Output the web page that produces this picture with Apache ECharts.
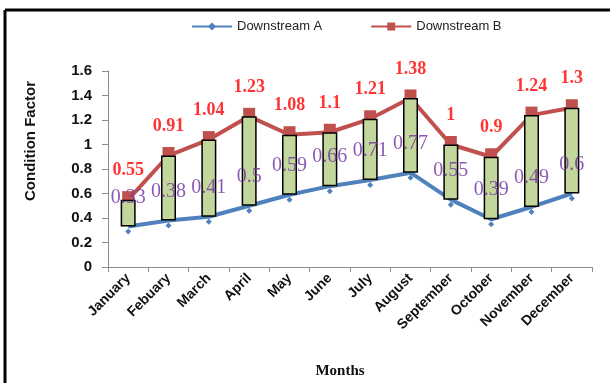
<!DOCTYPE html>
<html>
<head>
<meta charset="utf-8">
<script src="https://cdn.jsdelivr.net/npm/echarts@6/dist/echarts.min.js"></script>
<style>
  html, body { margin: 0; padding: 0; background: #fff; }
  #chart { width: 610px; height: 383px; }
</style>
</head>
<body>
<div id="chart"></div>
<script>
const months = ["January", "Febuary", "March", "April", "May", "June", "July", "August", "September", "October", "November", "December"]
const downstreamA = [0.33, 0.38, 0.41, 0.5, 0.59, 0.66, 0.71, 0.77, 0.55, 0.39, 0.49, 0.6]
const downstreamB = [0.55, 0.91, 1.04, 1.23, 1.08, 1.1, 1.21, 1.38, 1, 0.9, 1.24, 1.3]

// up-down bar = B - A, stacked on a hidden A base
const spread = downstreamB.map((b, i) => +(b - downstreamA[i]).toFixed(2))

const chart = echarts.init(document.getElementById("chart"))

const options = {
	animation: false,
	legend: {
		data: ["Downstream A", "Downstream B"],
		top: 15,
		left: 186,
		itemWidth: 40,
		itemHeight: 10,
		itemGap: 48,
		textStyle: { fontFamily: "Liberation Sans", fontSize: 13, color: "#222" },
	},
	grid: { left: 108, right: 18, top: 71, bottom: 116 },
	xAxis: {
		type: "category",
		data: months,
		axisLine: { lineStyle: { color: "#8c8c8c", width: 1 } },
		axisTick: { show: true, length: 5, lineStyle: { color: "#8c8c8c" } },
		axisLabel: {
			rotate: 45,
			interval: 0,
			margin: 9,
			fontFamily: "Liberation Sans",
			fontWeight: "bold",
			fontSize: 14,
			color: "#111",
		},
	},
	yAxis: {
		type: "value",
		min: 0,
		max: 1.6,
		interval: 0.2,
		splitLine: { show: false },
		axisLine: { show: true, lineStyle: { color: "#8c8c8c", width: 1 } },
		axisTick: { show: true, length: 6, lineStyle: { color: "#8c8c8c" } },
		axisLabel: {
			margin: 16,
			fontFamily: "Liberation Sans",
			fontWeight: "bold",
			fontSize: 15,
			color: "#111",
		},
	},
	graphic: [
		{ type: "line", shape: { x1: 5, y1: 10, x2: 610, y2: 10 }, style: { stroke: "#000", lineWidth: 3 } },
		{ type: "line", shape: { x1: 5, y1: 10, x2: 5, y2: 383 }, style: { stroke: "#000", lineWidth: 3 } },
		{
			type: "text",
			x: 31,
			y: 141,
			rotation: Math.PI / 2,
			style: {
				text: "Condition Factor",
				font: "bold 15px 'Liberation Sans'",
				fill: "#111",
				align: "center",
				verticalAlign: "middle",
			},
		},
		{
			type: "text",
			x: 340,
			y: 371,
			style: {
				text: "Months",
				font: "bold 15px 'Liberation Serif'",
				fill: "#111",
				align: "center",
				verticalAlign: "middle",
			},
		},
	],
	series: [
		{
			name: "Downstream A",
			type: "line",
			data: downstreamA,
			z: 1,
			lineStyle: { color: "#4f81bd", width: 4 },
			itemStyle: { color: "#4f81bd" },
			symbol: "diamond",
			symbolSize: 6,
			symbolOffset: [0, 5],
		},
		{
			name: "Downstream B",
			type: "line",
			data: downstreamB,
			z: 1,
			lineStyle: { color: "#c0504d", width: 4 },
			itemStyle: { color: "#c0504d" },
			symbol: "rect",
			symbolSize: [12, 9],
			symbolOffset: [0, -4],
		},
		{
			name: "base",
			type: "bar",
			stack: "ud",
			data: downstreamA,
			barWidth: 15,
			z: 2,
			silent: true,
			itemStyle: { color: "transparent" },
		},
		{
			name: "spread",
			type: "bar",
			stack: "ud",
			data: spread,
			barWidth: 15,
			z: 2,
			silent: true,
			itemStyle: { color: "#c3d69b", borderColor: "#000", borderWidth: 1.5 },
		},
		{
			name: "labelA",
			type: "scatter",
			data: downstreamA,
			symbolSize: 0,
			z: 5,
			silent: true,
			label: {
				show: true,
				position: "top",
				distance: 19,
				fontFamily: "Liberation Serif",
				fontSize: 20,
				color: "#7030a0",
			},
		},
		{
			name: "labelB",
			type: "scatter",
			data: downstreamB,
			symbolSize: 0,
			z: 5,
			silent: true,
			label: {
				show: true,
				position: "top",
				distance: 20,
				fontFamily: "Liberation Serif",
				fontWeight: "bold",
				fontSize: 18,
				color: "#ff0000",
			},
		},
	],
}

chart.setOption(options)
</script>
</body>
</html>
